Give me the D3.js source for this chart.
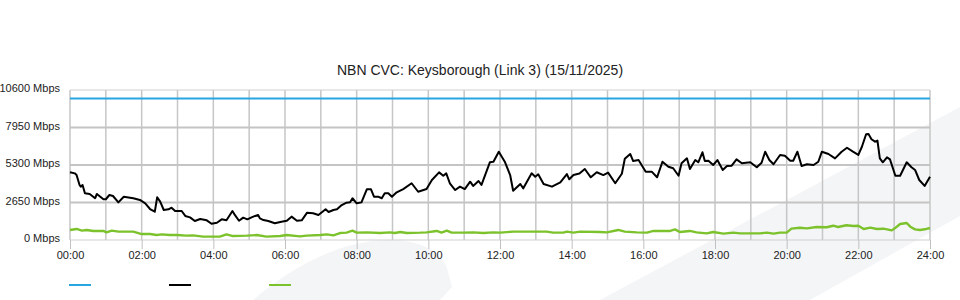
<!DOCTYPE html>
<html>
<head>
<meta charset="utf-8">
<script src="https://cdn.jsdelivr.net/npm/d3@7"></script>
<style>
  body { margin: 0; background: #fff; }
  svg { display: block; font-family: "Liberation Sans", Arial, sans-serif; }
</style>
</head>
<body>
<div id="chart"></div>
<script>
// chart values
var title = "NBN CVC: Keysborough (Link 3) (15/11/2025)";
var capacity = 10000;   // flat blue line
var yTicks = [0, 2650, 5300, 7950, 10600];
var xTickHours = [0, 2, 4, 6, 8, 10, 12, 14, 16, 18, 20, 22, 24];

var trafficTimes = ["00:00","00:08","00:11","00:16","00:18","00:21","00:25","00:33","00:42","00:45","00:56","01:00",
  "01:06","01:12","01:21","01:30","01:46","01:57","02:06","02:14","02:22","02:26","02:31","02:37","02:45","02:50",
  "02:56","03:07","03:13","03:21","03:29","03:38","03:49","03:57","04:06","04:14","04:22","04:32","04:36","04:43",
  "04:50","04:57","05:04","05:10","05:15","05:18","05:24","05:32","05:43","05:54","06:03","06:11","06:20","06:28",
  "06:37","06:47","06:56","07:08","07:13","07:21","07:27","07:35","07:43","07:49","07:53","08:00","08:08","08:17",
  "08:24","08:29","08:36","08:42","08:47","08:53","08:59","09:07","09:18","09:32","09:43","09:57","10:06","10:18",
  "10:25","10:30","10:36","10:45","10:53","11:01","11:10","11:15","11:24","11:29","11:43","11:49","11:58","12:08",
  "12:17","12:22","12:34","12:39","12:53","12:59","13:04","13:13","13:27","13:41","13:52","13:56","14:03","14:13",
  "14:22","14:32","14:42","14:53","15:01","15:13","15:24","15:29","15:38","15:43","15:52","16:04","16:14","16:23",
  "16:32","16:42","16:50","16:59","17:04","17:13","17:18","17:27","17:32","17:39","17:43","17:49","17:57","18:04",
  "18:13","18:20","18:28","18:36","18:45","18:59","19:10","19:18","19:24","19:31","19:38","19:49","19:57","20:06",
  "20:11","20:18","20:25","20:34","20:45","20:53","20:59","21:10","21:21","21:32","21:41","21:51","22:00","22:06",
  "22:13","22:17","22:22","22:28","22:32","22:36","22:41","22:48","22:53","23:02","23:10","23:21","23:29","23:35",
  "23:42","23:51","24:00"];
var trafficMbps = [4790,4710,4590,3890,3770,3890,3300,3250,2950,3250,2880,2880,
  3180,3110,2660,3060,2950,2830,2590,2190,2000,3020,2710,2120,2170,2280,
  2050,2050,1700,1600,1340,1480,1390,1150,1220,1460,1390,2050,1770,1360,
  1580,1460,1600,1700,1770,1530,1410,1340,1180,1290,1360,1650,1360,1390,
  1930,1890,1770,2170,1980,2120,2170,2470,2640,2660,2950,2590,2660,3580,
  3580,3060,3060,2950,3300,3300,3060,3370,3600,4010,3410,3600,4240,4780,
  4540,4710,4010,3530,3770,3600,4120,3820,4170,3890,5490,5530,6240,5530,
  4590,3480,3960,3650,4710,4470,4640,3960,3770,4080,4660,4290,4590,4700,
  5020,4430,4790,4590,4760,4010,4680,5740,6080,5580,5650,4830,4830,4430,
  5530,5180,5070,4540,5420,5770,5020,5650,5490,6200,5580,5600,5300,5650,
  4950,5230,5250,5700,5420,5490,5140,5460,6240,5650,5350,6010,5960,5600,
  5600,6240,5230,5350,5300,5530,6240,6080,5770,6240,6520,6240,6010,6590,
  7470,7490,7120,6950,7020,5770,5490,5840,5700,4540,4540,5490,5140,4950,
  4240,3820,4470];

var greenTimes = ["00:00","00:11","00:20","00:28","00:39","00:56","01:01","01:10","01:21","01:46","02:00","02:14",
  "02:25","02:34","02:47","02:59","03:15","03:26","03:43","04:11","04:22","04:33","04:56","05:13","05:29","05:52",
  "06:03","06:25","06:36","06:59","07:10","07:21","07:32","07:43","07:53","08:00","08:17","08:39","08:56","09:04",
  "09:13","09:24","09:46","09:57","10:14","10:22","10:31","10:39","10:59","11:15","11:32","11:49","12:00","12:22",
  "13:18","13:29","13:46","13:52","14:03","14:14","14:47","14:59","15:18","15:29","15:49","16:06","16:17","16:45",
  "16:53","17:01","17:18","17:29","17:46","17:57","18:14","18:31","18:42","19:15","19:27","19:38","19:49","20:00",
  "20:08","20:22","20:34","20:50","21:07","21:18","21:26","21:40","21:52","22:00","22:09","22:20","22:31","22:42",
  "22:56","23:01","23:10","23:21","23:27","23:35","23:43","23:54","24:00"];
var greenMbps = [710,780,660,710,640,640,540,660,590,590,420,420,
  350,400,350,350,310,330,240,240,400,280,310,350,240,280,
  350,260,310,350,400,330,490,520,660,520,540,495,540,495,
  565,495,518,540,640,518,660,518,520,540,495,540,520,590,
  590,518,520,590,520,590,570,540,710,590,540,520,640,640,
  750,565,640,540,470,565,450,520,470,470,520,450,520,520,
  800,870,825,920,900,1010,920,1040,990,1010,780,870,780,800,
  680,825,1130,1200,940,750,710,780,850];

var legendColors = ["#27a6e1", "#000000", "#7cc22c"];

function toMinutes(t) {
    var p = t.split(":");
    return +p[0] * 60 + +p[1];
}

var W = 960, H = 300;
var svg = d3.select("#chart").append("svg").attr("width", W).attr("height", H);
svg.append("rect").attr("width", W).attr("height", H).attr("fill", "#fff");

// faint background watermark shapes
svg.append("path")
    .attr("d", "M600,300 L960,107 L960,216 L810,300 Z")
    .attr("fill", "#f4f5f7");
svg.append("path")
    .attr("d", "M253,300 C290,268 340,240 390,240 C425,240 442,255 447,268 L452,287 L440,300 Z")
    .attr("fill", "#f4f5f7");

var x = d3.scaleLinear().domain([0, 1440]).range([70, 930]);
var y = d3.scaleLinear().domain([0, 10600]).range([240, 90]);

// vertical grid, every hour
svg.append("g").selectAll("line")
    .data(d3.range(0, 25))
    .enter().append("line")
    .attr("x1", d => x(d * 60)).attr("x2", d => x(d * 60))
    .attr("y1", y(10600)).attr("y2", y(0))
    .attr("stroke", "#c6c6c6")
    .attr("stroke-width", 1.5);

// horizontal grid
svg.append("g").selectAll("line")
    .data(yTicks)
    .enter().append("line")
    .attr("x1", x(0)).attr("x2", x(1440))
    .attr("y1", d => y(d)).attr("y2", d => y(d))
    .attr("stroke", d => (d == 0 || d == 10600) ? "#d0d0d0" : "#c4c4c4")
    .attr("stroke-width", d => (d == 0 || d == 10600) ? 1.2 : 2);

// y labels
var yAxis = svg.append("g")
    .attr("transform", "translate(60,-2)")
    .call(d3.axisLeft(y).tickValues(yTicks).tickSize(0).tickPadding(0)
        .tickFormat(d => d + " Mbps"));
yAxis.select(".domain").remove();
yAxis.selectAll("text").attr("font-size", 11).attr("fill", "#222")
    .attr("font-family", "Liberation Sans, Arial, sans-serif");

// x axis ticks + labels
var xAxis = svg.append("g")
    .attr("transform", "translate(0,240)")
    .call(d3.axisBottom(x).tickValues(xTickHours.map(h => h * 60)).tickSize(9).tickPadding(2)
        .tickFormat(d => d3.format("02d")(d / 60) + ":00"));
xAxis.select(".domain").remove();
xAxis.selectAll("line").attr("stroke", "#c0c0c0");
xAxis.selectAll("text").attr("font-size", 11).attr("fill", "#222")
    .attr("font-family", "Liberation Sans, Arial, sans-serif");

// capacity line
svg.append("line")
    .attr("x1", x(0)).attr("x2", x(1440))
    .attr("y1", y(capacity)).attr("y2", y(capacity))
    .attr("stroke", legendColors[0])
    .attr("stroke-width", 2.2);

var line = d3.line()
    .x(d => x(toMinutes(d[0])))
    .y(d => y(d[1]));

svg.append("path")
    .datum(greenTimes.map((t, i) => [t, greenMbps[i]]))
    .attr("d", line)
    .attr("fill", "none")
    .attr("stroke", legendColors[2])
    .attr("stroke-width", 2.4)
    .attr("stroke-linejoin", "round");

svg.append("path")
    .datum(trafficTimes.map((t, i) => [t, trafficMbps[i]]))
    .attr("d", line)
    .attr("fill", "none")
    .attr("stroke", legendColors[1])
    .attr("stroke-width", 2)
    .attr("stroke-linejoin", "round");

// title
svg.append("text")
    .attr("x", 480).attr("y", 75)
    .attr("text-anchor", "middle")
    .attr("font-size", 14)
    .attr("fill", "#222")
    .text(title);

// legend swatches (no labels in the original)
svg.append("g").selectAll("line")
    .data(legendColors)
    .enter().append("line")
    .attr("x1", (d, i) => 69 + i * 100).attr("x2", (d, i) => 91 + i * 100)
    .attr("y1", 285).attr("y2", 285)
    .attr("stroke", d => d)
    .attr("stroke-width", 2);
</script>
</body>
</html>
